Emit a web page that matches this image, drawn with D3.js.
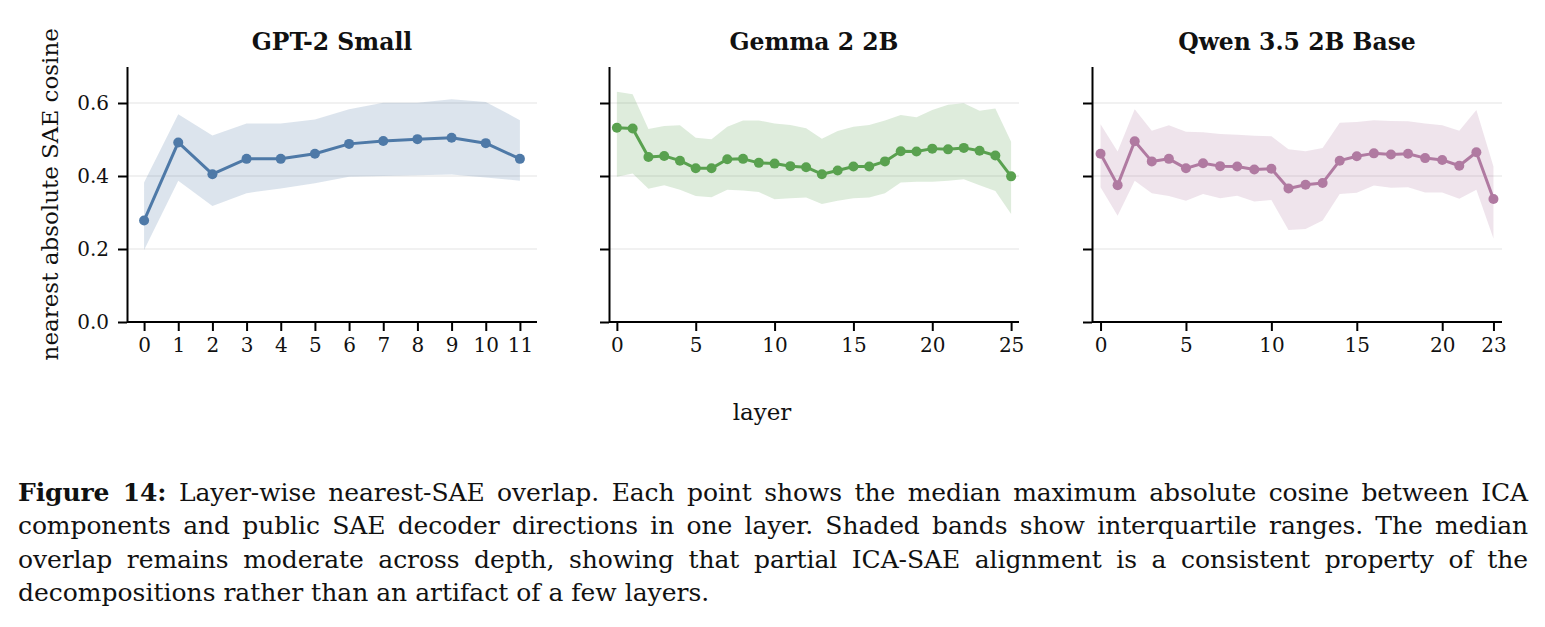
<!DOCTYPE html>
<html>
<head>
<meta charset="utf-8">
<script src="https://cdn.jsdelivr.net/npm/d3@7"></script>
<style>
  html, body { margin: 0; padding: 0; background: #fff; }
  #wrap { position: relative; width: 1545px; height: 627px; overflow: hidden; }
  svg { position: absolute; left: 0; top: 0; }
  #caption { position: absolute; left: 18px; top: 476px; width: 1510px;
             font-family: "DejaVu Serif", serif; font-size: 25px; color: #111; }
  #caption div { line-height: 33.3px; height: 33.3px; text-align: justify; text-align-last: justify; white-space: nowrap; }
  #caption div.last { text-align-last: left; }
</style>
</head>
<body>
<div id="wrap">
<svg id="chart" width="1545" height="470"></svg>
<div id="caption"></div>
</div>
<script>
// ---------------- data ----------------
const panelTitles = ["GPT-2 Small", "Gemma 2 2B", "Qwen 3.5 2B Base"];
const panelColors = ["#4e79a7", "#59a14f", "#b07aa1"];
const xTickLabels = [
  [0,1,2,3,4,5,6,7,8,9,10,11],
  [0,5,10,15,20,25],
  [0,5,10,15,20,23]
];
const yTickLabels = [0.0, 0.2, 0.4, 0.6];

const gptMedian = [0.278,0.492,0.405,0.447,0.447,0.461,0.488,0.496,0.501,0.505,0.490,0.447];
const gptQ75    = [0.382,0.569,0.511,0.544,0.544,0.555,0.583,0.601,0.601,0.610,0.603,0.553];
const gptQ25    = [0.197,0.387,0.318,0.353,0.366,0.380,0.398,0.400,0.402,0.404,0.396,0.387];

const gemmaMedian = [0.532,0.530,0.452,0.455,0.442,0.421,0.421,0.446,0.447,0.436,0.434,0.427,0.424,
                     0.405,0.415,0.426,0.426,0.440,0.468,0.467,0.475,0.473,0.477,0.469,0.456,0.399];
const gemmaQ75    = [0.631,0.624,0.529,0.537,0.539,0.505,0.501,0.535,0.552,0.552,0.544,0.540,0.531,
                     0.502,0.523,0.535,0.540,0.552,0.567,0.561,0.581,0.595,0.599,0.579,0.585,0.494];
const gemmaQ25    = [0.398,0.407,0.365,0.375,0.362,0.345,0.342,0.362,0.360,0.356,0.336,0.339,0.341,
                     0.323,0.332,0.339,0.341,0.353,0.382,0.384,0.384,0.387,0.391,0.375,0.359,0.296];

const qwenMedian = [0.461,0.375,0.495,0.440,0.447,0.421,0.435,0.427,0.426,0.418,0.420,0.366,0.376,
                    0.381,0.442,0.454,0.462,0.459,0.461,0.449,0.444,0.428,0.465,0.337];
const qwenQ75    = [0.542,0.467,0.583,0.524,0.539,0.521,0.520,0.515,0.513,0.510,0.509,0.473,0.468,
                    0.477,0.546,0.548,0.553,0.551,0.550,0.544,0.539,0.524,0.581,0.426];
const qwenQ25    = [0.369,0.291,0.387,0.353,0.345,0.332,0.351,0.339,0.346,0.330,0.334,0.252,0.255,
                    0.278,0.351,0.354,0.374,0.368,0.369,0.355,0.355,0.338,0.362,0.229];

const panelMedians = [gptMedian, gemmaMedian, qwenMedian];
const panelQ25 = [gptQ25, gemmaQ25, qwenQ25];
const panelQ75 = [gptQ75, gemmaQ75, qwenQ75];

const yLabel = "nearest absolute SAE cosine";
const xLabel = "layer";
const captionLines = [
  ["<b>Figure 14:</b> Layer-wise nearest-SAE overlap. Each point shows the median maximum absolute cosine between ICA", false],
  ["components and public SAE decoder directions in one layer. Shaded bands show interquartile ranges. The median", false],
  ["overlap remains moderate across depth, showing that partial ICA-SAE alignment is a consistent property of the", false],
  ["decompositions rather than an artifact of a few layers.", true]
];

// ---------------- layout ----------------
const svg = d3.select("#chart");
const FONT = "'DejaVu Serif', serif";
const panelLeft = [127, 609, 1092];
const panelW = 410;
const plotTop = 66.5, plotBottom = 322;

const y = d3.scaleLinear().domain([0, 0.7]).range([plotBottom, plotTop]);

panelMedians.forEach((med, p) => {
  const n = med.length;
  const x = d3.scaleLinear().domain([-0.5, n - 0.5]).range([panelLeft[p], panelLeft[p] + panelW]);
  const g = svg.append("g");
  const col = panelColors[p];

  // gridlines
  g.selectAll("line.grid").data(yTickLabels.filter(v => v > 0)).enter().append("line")
    .attr("x1", panelLeft[p]).attr("x2", panelLeft[p] + panelW)
    .attr("y1", d => y(d)).attr("y2", d => y(d))
    .attr("stroke", "#e3e3e3").attr("stroke-width", 1.2);

  const idx = d3.range(n);
  // band
  g.append("path").datum(idx)
    .attr("d", d3.area().x(i => x(i)).y0(i => y(panelQ25[p][i])).y1(i => y(panelQ75[p][i])))
    .attr("fill", col).attr("fill-opacity", 0.2).attr("stroke", "none");

  // line
  g.append("path").datum(idx)
    .attr("d", d3.line().x(i => x(i)).y(i => y(med[i])))
    .attr("fill", "none").attr("stroke", col).attr("stroke-width", 3).attr("stroke-linejoin", "round");

  g.selectAll("circle").data(idx).enter().append("circle")
    .attr("cx", i => x(i)).attr("cy", i => y(med[i])).attr("r", 5).attr("fill", col);

  // axes
  const xAxis = d3.axisBottom(x).tickValues(xTickLabels[p]).tickSize(9).tickPadding(7).tickSizeOuter(0)
    .tickFormat(d3.format("d"));
  const xg = g.append("g").attr("transform", `translate(0,${plotBottom})`).call(xAxis);
  const yAxis = d3.axisLeft(y).tickValues(yTickLabels).tickSize(9).tickPadding(9).tickSizeOuter(0)
    .tickFormat(p === 0 ? d3.format(".1f") : () => "");
  const yg = g.append("g").attr("transform", `translate(${panelLeft[p]},0)`).call(yAxis);
  [xg, yg].forEach(a => {
    a.select(".domain").attr("stroke", "#000").attr("stroke-width", 2);
    a.selectAll(".tick line").attr("stroke", "#000").attr("stroke-width", 2);
    a.selectAll(".tick text").attr("font-family", FONT).attr("font-size", 20).attr("fill", "#111");
  });
  xg.select(".domain").attr("d", `M${panelLeft[p]},0H${panelLeft[p] + panelW}`);

  // title
  svg.append("text").attr("x", panelLeft[p] + panelW / 2).attr("y", 50)
    .attr("text-anchor", "middle").attr("font-family", FONT).attr("font-weight", "bold")
    .attr("font-size", 23.5).attr("fill", "#111").text(panelTitles[p]);
});

svg.append("text").attr("transform", `translate(58,${(plotTop + plotBottom) / 2}) rotate(-90)`)
  .attr("text-anchor", "middle").attr("font-family", FONT).attr("font-size", 23).attr("fill", "#111")
  .text(yLabel);
svg.append("text").attr("x", 762).attr("y", 420).attr("text-anchor", "middle")
  .attr("font-family", FONT).attr("font-size", 23).attr("fill", "#111").text(xLabel);

// caption
const cap = d3.select("#caption");
captionLines.forEach(([t, last]) => {
  cap.append("div").attr("class", last ? "last" : null).html(t);
});
// tighten letter spacing on any line whose natural width exceeds the column
cap.selectAll("div").each(function () {
  const el = this;
  const html = el.innerHTML;
  const probe = document.createElement("span");
  probe.innerHTML = html;
  probe.style.whiteSpace = "nowrap";
  el.innerHTML = "";
  el.appendChild(probe);
  const w = probe.getBoundingClientRect().width;
  el.innerHTML = html;
  const nChars = html.replace(/<[^>]+>/g, "").length;
  if (w > 1500) el.style.letterSpacing = ((1500 - w) / nChars) + "px";
});
</script>
</body>
</html>
